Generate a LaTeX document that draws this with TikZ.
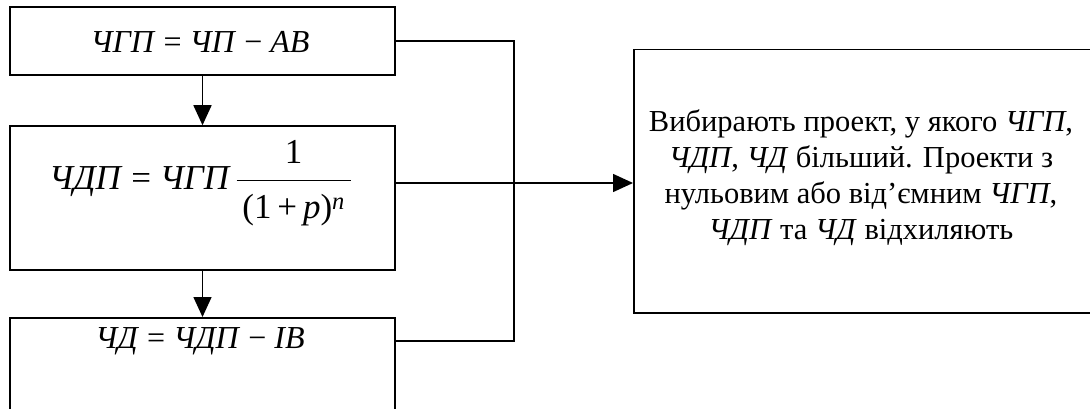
\documentclass[tikz,border=0pt]{standalone}
\usepackage{fontspec}
\setmainfont{Liberation Serif}
\usetikzlibrary{arrows.meta}
\tikzset{
  box/.style={draw, line width=1.5pt, inner sep=0pt},
  link/.style={line width=1.5pt},
  flow/.style={link, -{Triangle[length=20pt,width=18pt]}},
  formula/.style={inner sep=0pt, font=\fontsize{32}{37}\selectfont},
  note/.style={inner sep=0pt, align=center, font=\fontsize{30.5}{36}\selectfont},
}
\newcommand{\frm}[1]{\textit{#1}}
\begin{document}
\begin{tikzpicture}[x=1pt, y=-1pt]
  \clip (0,0) rectangle (1090,409);
  \fill[white] (0,0) rectangle (1090,409);

  % left column of boxes
  \node[box, minimum width=385pt, minimum height=68pt] (b1) at (202.5,41) {};
  \node[formula] (f1) at (200,42) {\frm{ЧГП} = \frm{ЧП} − \frm{АВ}};

  \node[box, minimum width=385pt, minimum height=144pt] (b2) at (202.5,198) {};
  \node[formula, font=\fontsize{35}{40}\selectfont] (f2) at (200,183)
    {\frm{ЧДП} = \frm{ЧГП}\,%
     {\renewcommand{\arraystretch}{1.05}\setlength{\arrayrulewidth}{1.3pt}%
      \begin{tabular}{@{\,}c@{\,}}1\\[3pt]\hline\rule{0pt}{38pt}(1\,+\,\frm{p})\textsuperscript{\frm{n}}\end{tabular}}};

  \node[box, minimum width=385pt, minimum height=120pt, anchor=north] (b3) at (202.5,317) {};
  \node[formula] (f3) at (200,341) {\frm{ЧД} = \frm{ЧДП} − \frm{IB}};

  % decision box on the right
  \node[box, minimum width=462pt, minimum height=263pt, anchor=north west] (r) at (633,49) {};
  \node[note] (rt) at (861,178)
    {Вибирають проект, у якого \frm{ЧГП},\\
     \frm{ЧДП}, \frm{ЧД} більший. Проекти з\\
     нульовим або від’ємним \frm{ЧГП},\\
     \frm{ЧДП} та \frm{ЧД} відхиляють};

  % connectors
  \coordinate (j) at (514,0);
  \draw[flow] (b1.south) -- (b2.north);
  \draw[flow] (b2.south) -- (b3.north);
  \draw[link] (b1.east) -| (j |- f3) -- (b3.east |- f3);
  \draw[flow] (b2.east |- f2) -- (r.west |- f2);
\end{tikzpicture}
\end{document}
